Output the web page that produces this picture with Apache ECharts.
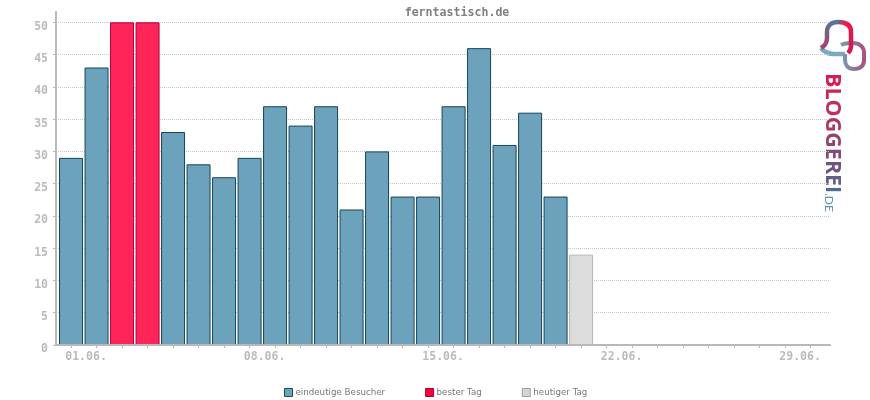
<!DOCTYPE html>
<html>
<head>
<meta charset="utf-8">
<style>html,body{margin:0;padding:0;background:#fff}</style>
<script src="https://cdn.jsdelivr.net/npm/echarts@6/dist/echarts.min.js"></script>
</head>
<body>
<div id="main" style="width:870px;height:400px"></div>
<script>
var days = [];
for (var d = 1; d <= 30; d++) days.push(d);
var labelDays = [1, 8, 15, 22, 29];
var yTicks = [0, 5, 10, 15, 20, 25, 30, 35, 40, 45, 50];

var visitorDays = [1, 2, 5, 6, 7, 8, 9, 10, 11, 12, 13, 14, 15, 16, 17, 18, 19, 20];
var visitorValues = [29, 43, 33, 28, 26, 29, 37, 34, 37, 21, 30, 23, 23, 37, 46, 31, 36, 23];
var bestDays = [3, 4];
var bestValues = [50, 50];
var todayDays = [21];
var todayValues = [14];

function pairs(xs, ys) {
    return xs.map(function (x, i) { return [x, ys[i]]; });
}
function two(n) { return (n < 10 ? '0' : '') + n; }

var myChart = echarts.init(document.getElementById('main'));

// logo shapes, the graphic component has no plain path type
echarts.graphic.registerShape('logoBellLeft', echarts.graphic.extendPath('M821 48 C824 46 827 44 827 38 L827 32 C827 25 832 22 838 22'));
echarts.graphic.registerShape('logoBellRight', echarts.graphic.extendPath('M838 22 C846 22 851 25 851 32 L851 46 C851 49 850 51 848 53'));
echarts.graphic.registerShape('logoFoot', echarts.graphic.extendPath('M821 48 C825 53 829 54 834 54 L845 54'));
echarts.graphic.registerShape('logoLink', echarts.graphic.extendPath('M841 45 C845 43 848 43 852 43 C860 43 864 47 864 53 L864 60 C864 66 860 69 854 69 C848 69 845 65 845 60 L845 54'));

// logo letters are coloured one by one, canvas text takes no gradient
var logoLetters = ['B', 'L', 'O', 'G', 'G', 'E', 'R', 'E', 'I'];
var logoColors = ['#d81b52', '#cf2354', '#bf2f5b', '#a83a66', '#95426e', '#834a78', '#6f5482', '#5f5f8a', '#4f6d92'];
var logoRich = {};
var logoText = '';
logoLetters.forEach(function (c, i) {
    logoRich['l' + i] = {fill: logoColors[i], font: 'bold 21.5px "Open Sans"'};
    logoText += '{l' + i + '|' + c + '}';
});

function logoGradient(x2, y2, stops) {
    return new echarts.graphic.LinearGradient(0, 0, x2, y2, stops);
}

var barBase = {type: 'bar', barWidth: 24, barGap: '-100%'};

var option = {
    animation: false,
    title: {
        text: 'ferntastisch.de',
        left: 452,
        top: 2,
        textAlign: 'center',
        textStyle: {fontFamily: 'DejaVu Sans Mono', fontSize: 11.6, fontWeight: 'bold', color: '#808080'}
    },
    legend: {
        left: 284,
        top: 388,
        padding: 0,
        itemWidth: 8,
        itemHeight: 8,
        itemGap: 40,
        icon: 'rect',
        textStyle: {fontFamily: 'DejaVu Sans', fontSize: 8.7, color: '#777', padding: [0, 0, 0, -2]},
        data: [
            {name: 'eindeutige Besucher', itemStyle: {color: '#6ca2bb', borderColor: '#1a4a5e', borderWidth: 1}},
            {name: 'bester Tag', itemStyle: {color: '#f5003c', borderColor: '#b0003a', borderWidth: 1}},
            {name: 'heutiger Tag', itemStyle: {color: '#d4d4d4', borderColor: '#a0a0a0', borderWidth: 1}}
        ]
    },
    grid: {left: 56, right: 40, top: 12, bottom: 55},
    xAxis: {
        type: 'value',
        z: 5,
        min: 0.41,
        max: 30.76,
        axisLine: {show: true, onZero: false, lineStyle: {color: '#b8b8b8', width: 2}},
        axisTick: {show: true, length: 3, customValues: days, lineStyle: {color: '#b8b8b8'}},
        splitLine: {show: false},
        axisLabel: {
            customValues: labelDays,
            margin: 6,
            padding: [0, 0, 0, 30],
            color: '#bbb',
            fontFamily: 'DejaVu Sans Mono',
            fontSize: 11.5,
            fontWeight: 'bold',
            formatter: function (v) { return two(Math.round(v)) + '.06.'; }
        }
    },
    yAxis: {
        type: 'value',
        min: 0,
        max: 51.6,
        axisLine: {show: true, lineStyle: {color: '#b8b8b8', width: 2}},
        axisTick: {show: true, length: 3, customValues: yTicks, lineStyle: {color: '#b8b8b8'}},
        splitLine: {show: true, lineStyle: {color: '#c8c8c8', type: [1, 1], width: 1}},
        axisLabel: {
            customValues: yTicks,
            margin: 8,
            verticalAlign: 'top',
            lineHeight: 9,
            color: '#bbb',
            fontFamily: 'DejaVu Sans Mono',
            fontSize: 11.5,
            fontWeight: 'bold'
        }
    },
    series: [
        Object.assign({}, barBase, {
            name: 'eindeutige Besucher',
            data: pairs(visitorDays, visitorValues),
            itemStyle: {color: '#6ca2bb', borderColor: '#154558', borderWidth: 1}
        }),
        Object.assign({}, barBase, {
            name: 'bester Tag',
            data: pairs(bestDays, bestValues),
            itemStyle: {color: '#ff2559', borderColor: '#b0003a', borderWidth: 1}
        }),
        Object.assign({}, barBase, {
            name: 'heutiger Tag',
            data: pairs(todayDays, todayValues),
            itemStyle: {color: '#dcdcdc', borderColor: '#b5b5b5', borderWidth: 1}
        })
    ],
    graphic: [
        {
            type: 'logoFoot',
            style: {fill: null, stroke: '#78aac0', lineWidth: 4.5}
        },
        {
            type: 'logoLink',
            style: {fill: null, stroke: logoGradient(1, 0, [{offset: 0, color: '#6fa6bd'}, {offset: 1, color: '#ab4d7a'}]), lineWidth: 4}
        },
        {
            type: 'logoBellLeft',
            style: {fill: null, stroke: logoGradient(0, 1, [{offset: 0, color: '#4e7a9a'}, {offset: 1, color: '#b53a6a'}]), lineWidth: 4.5}
        },
        {
            type: 'logoBellRight',
            style: {fill: null, stroke: logoGradient(1, 0.4, [{offset: 0, color: '#4e7a9a'}, {offset: 0.55, color: '#ff0f45'}, {offset: 1, color: '#d01c50'}]), lineWidth: 4.5}
        },
        {
            type: 'text',
            x: 821,
            y: 73,
            rotation: -Math.PI / 2,
            style: {text: logoText, rich: logoRich, font: 'bold 21.5px "Open Sans"', textAlign: 'left', textVerticalAlign: 'bottom'}
        },
        {
            type: 'text',
            x: 823,
            y: 193,
            rotation: -Math.PI / 2,
            style: {text: '.DE', fill: '#5a95b0', font: '12px Lato', textAlign: 'left', textVerticalAlign: 'bottom'}
        }
    ]
};
myChart.setOption(option);
</script>
</body>
</html>
